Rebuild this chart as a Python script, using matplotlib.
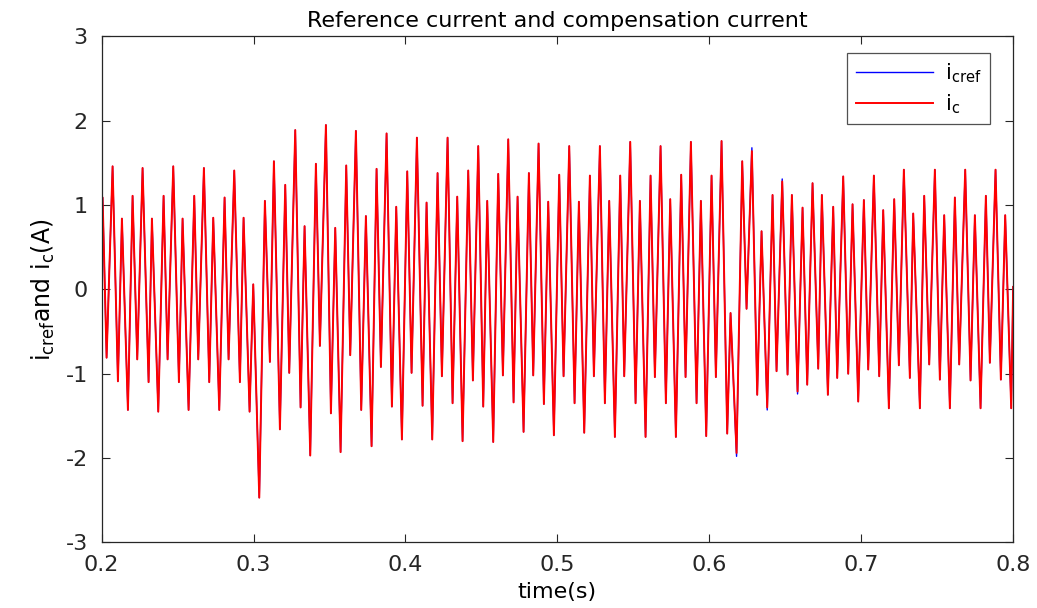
import numpy as np
import matplotlib
matplotlib.use("Agg")
import matplotlib.pyplot as plt

# extrema of i_c (time in s, current in A)
t = [0.20000, 0.20064, 0.20327, 0.20722, 0.21073, 0.21336, 0.21731, 0.22038,
     0.22345, 0.22696, 0.23091, 0.23311, 0.23728, 0.24079, 0.24342, 0.24715,
     0.25088, 0.25329, 0.25724, 0.26097, 0.26360, 0.26733, 0.27084, 0.27348,
     0.27743, 0.28094, 0.28357, 0.28730, 0.29103, 0.29344, 0.29739, 0.29981,
     0.30376, 0.30748, 0.31077, 0.31341, 0.31736, 0.32087, 0.32350, 0.32745,
     0.33096, 0.33359, 0.33732, 0.34105, 0.34369, 0.34764, 0.35093, 0.35378,
     0.35729, 0.36102, 0.36365, 0.36738, 0.37089, 0.37396, 0.37769, 0.38098,
     0.38384, 0.38757, 0.39108, 0.39393, 0.39766, 0.40117, 0.40402, 0.40753,
     0.41126, 0.41389, 0.41762, 0.42113, 0.42399, 0.42772, 0.43101, 0.43408,
     0.43759, 0.44132, 0.44439, 0.44790, 0.45119, 0.45382, 0.45777, 0.46106,
     0.46414, 0.46765, 0.47116, 0.47379, 0.47774, 0.48125, 0.48410, 0.48761,
     0.49112, 0.49397, 0.49770, 0.50121, 0.50407, 0.50780, 0.51131, 0.51416,
     0.51767, 0.52140, 0.52403, 0.52798, 0.53127, 0.53412, 0.53785, 0.54136,
     0.54400, 0.54795, 0.55146, 0.55431, 0.55804, 0.56133, 0.56418, 0.56791,
     0.57142, 0.57428, 0.57800, 0.58151, 0.58437, 0.58788, 0.59161, 0.59446,
     0.59797, 0.60148, 0.60433, 0.60806, 0.61179, 0.61399, 0.61794, 0.62167,
     0.62452, 0.62803, 0.63154, 0.63439, 0.63812, 0.64163, 0.64426, 0.64799,
     0.65150, 0.65436, 0.65809, 0.66138, 0.66445, 0.66796, 0.67169, 0.67410,
     0.67805, 0.68156, 0.68419, 0.68814, 0.69143, 0.69429, 0.69802, 0.70175,
     0.70460, 0.70833, 0.71184, 0.71447, 0.71820, 0.72171, 0.72478, 0.72807,
     0.73202, 0.73422, 0.73861, 0.74146, 0.74475, 0.74848, 0.75177, 0.75462,
     0.75835, 0.76164, 0.76450, 0.76845, 0.77196, 0.77481, 0.77854, 0.78205,
     0.78468, 0.78841, 0.79192, 0.79477, 0.79872, 0.80000]

ic = [0.00, 1.09, -0.81, 1.46, -1.09, 0.84, -1.43, 1.11,
      -0.83, 1.44, -1.10, 0.84, -1.45, 1.11, -0.83, 1.46,
      -1.10, 0.84, -1.43, 1.11, -0.83, 1.44, -1.10, 0.85,
      -1.43, 1.09, -0.83, 1.41, -1.10, 0.85, -1.45, 0.06,
      -2.47, 1.05, -0.86, 1.52, -1.66, 1.24, -0.99, 1.89,
      -1.40, 0.75, -1.97, 1.49, -0.67, 1.95, -1.47, 0.73,
      -1.93, 1.47, -0.78, 1.88, -1.43, 0.87, -1.86, 1.43,
      -0.92, 1.85, -1.39, 0.98, -1.78, 1.40, -0.99, 1.80,
      -1.38, 1.03, -1.78, 1.38, -1.03, 1.80, -1.35, 1.10,
      -1.80, 1.41, -1.08, 1.70, -1.39, 1.05, -1.81, 1.37,
      -1.02, 1.78, -1.34, 1.10, -1.69, 1.38, -1.02, 1.73,
      -1.36, 1.04, -1.73, 1.36, -1.03, 1.70, -1.35, 1.04,
      -1.70, 1.35, -1.03, 1.70, -1.35, 1.05, -1.75, 1.35,
      -1.03, 1.75, -1.35, 1.05, -1.75, 1.35, -1.04, 1.70,
      -1.35, 1.07, -1.75, 1.36, -1.04, 1.75, -1.35, 1.05,
      -1.74, 1.35, -1.04, 1.76, -1.71, -0.28, -1.94, 1.52,
      -0.23, 1.64, -1.25, 0.69, -1.40, 1.12, -0.97, 1.28,
      -1.01, 1.12, -1.21, 0.97, -1.13, 1.26, -0.94, 1.12,
      -1.25, 0.98, -1.05, 1.34, -1.00, 1.01, -1.33, 1.06,
      -0.95, 1.35, -1.03, 0.94, -1.41, 1.07, -0.90, 1.42,
      -1.05, 0.90, -1.41, 1.11, -0.89, 1.42, -1.07, 0.88,
      -1.41, 1.09, -0.89, 1.42, -1.08, 0.88, -1.41, 1.11,
      -0.87, 1.42, -1.07, 0.88, -1.41, 0.03]

# where the reference overshoots the compensation current (blue tips)
cref_tip_t = [0.61794, 0.62803, 0.63812, 0.64799, 0.65809]
cref_tip_v = [-1.98, 1.68, -1.43, 1.31, -1.24]

t = np.array(t)
ic = np.array(ic)
icref = ic.copy()
for tt, vv in zip(cref_tip_t, cref_tip_v):
    icref[np.argmin(np.abs(t - tt))] = vv

plt.rcParams['font.family'] = ['DejaVu Sans']
plt.rcParams['mathtext.fontset'] = 'dejavusans'
dark = '#262626'

fig = plt.figure(figsize=(10.37, 6.08), dpi=100)
ax = fig.add_axes([0.098, 0.108, 0.879, 0.832])

ax.plot(t, icref, color='b', lw=1.0, label=r'$\mathregular{i_{cref}}$')
ax.plot(t, ic, color='r', lw=1.4, label=r'$\mathregular{i_{c}}$')

ax.set_xlim(0.2, 0.8)
ax.set_ylim(-3, 3)
ax.set_xticks([0.2, 0.3, 0.4, 0.5, 0.6, 0.7, 0.8])
ax.set_xticklabels(['0.2', '0.3', '0.4', '0.5', '0.6', '0.7', '0.8'])
ax.set_yticks([-3, -2, -1, 0, 1, 2, 3])
ax.set_yticklabels(['-3', '-2', '-1', '0', '1', '2', '3'])

ax.tick_params(direction='in', length=6, width=0.8, colors=dark,
               labelsize=16, top=True, right=True)
ax.tick_params(axis='x', pad=9)
ax.tick_params(axis='y', pad=10)
for s in ax.spines.values():
    s.set_color(dark)
    s.set_linewidth(0.9)

ax.set_title('Reference current and compensation current', fontsize=16,
             color='black', pad=7)
ax.set_xlabel('time(s)', fontsize=16, color='black', labelpad=5)
ax.set_ylabel(r'$\mathregular{i_{cref}}$and $\mathregular{i_{c}}$(A)',
              fontsize=17, color='black', labelpad=6)

leg = ax.legend(loc='upper right', bbox_to_anchor=(0.9745, 0.967),
                borderaxespad=0, fontsize=15, frameon=True, fancybox=False,
                edgecolor=dark, handlelength=3.7, handletextpad=0.6,
                borderpad=0.4, labelspacing=0.35)
leg.get_frame().set_linewidth(0.9)

fig.savefig('out.png', dpi=100, facecolor='white')
